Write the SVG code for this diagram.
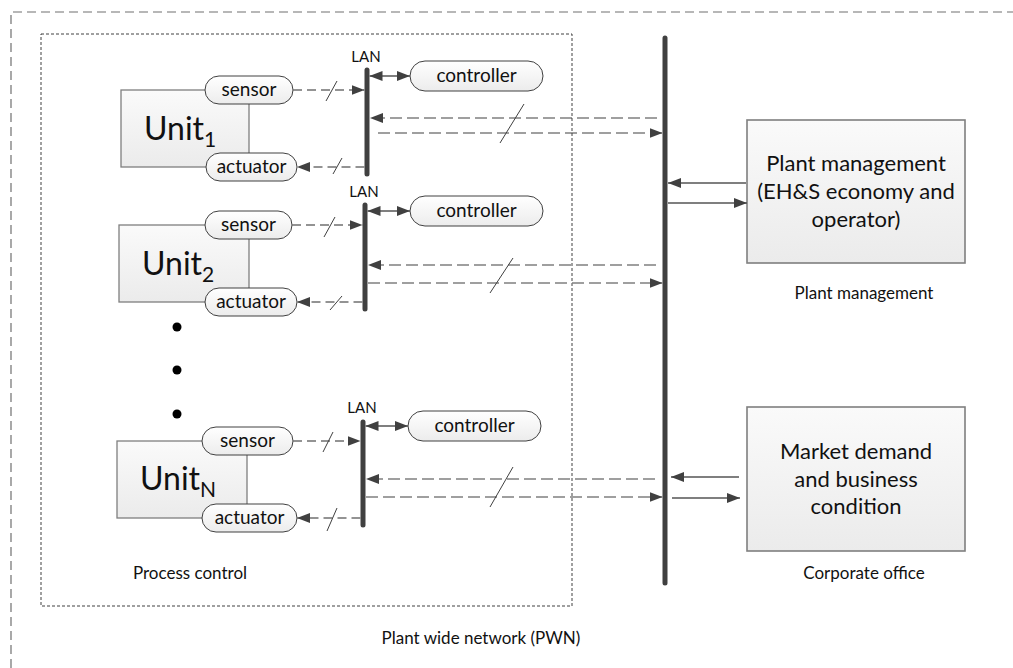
<svg xmlns="http://www.w3.org/2000/svg" width="1013" height="668" viewBox="0 0 1013 668">
<defs>
<linearGradient id="gPill" x1="0" y1="0" x2="0" y2="1"><stop offset="0" stop-color="#ffffff"/><stop offset="1" stop-color="#ececec"/></linearGradient>
<linearGradient id="gBox" x1="0" y1="0" x2="0" y2="1"><stop offset="0" stop-color="#fafafa"/><stop offset="1" stop-color="#ebebeb"/></linearGradient>
<marker id="ah" markerUnits="userSpaceOnUse" markerWidth="14" markerHeight="10" refX="13" refY="5" orient="auto"><path d="M0,0 L13,5 L0,10 Z" fill="#404040"/></marker>
<marker id="ahs" markerUnits="userSpaceOnUse" markerWidth="14" markerHeight="10" refX="0" refY="5" orient="auto"><path d="M13,0 L0,5 L13,10 Z" fill="#404040"/></marker>
</defs>
<style>
text{font-family:Lato,"Open Sans","Liberation Sans",sans-serif;fill:#111;}
.pill{fill:url(#gPill);stroke:#404040;stroke-width:1;}
.unit{fill:url(#gBox);stroke:#7f7f7f;stroke-width:1.3;}
.box{fill:url(#gBox);stroke:#7f7f7f;stroke-width:1.6;}
.bus{stroke:#404040;stroke-width:5;stroke-linecap:round;}
.pt{font-size:19px;text-anchor:middle;}
.lan{font-size:15px;text-anchor:middle;}
.ut{font-size:32px;}
.us{font-size:21px;}
.bt{font-size:22px;text-anchor:middle;}
.lbl{font-size:17px;text-anchor:middle;}
.d1{stroke:#707070;stroke-width:1.3;stroke-dasharray:9 5;fill:none;}
.d2{stroke:#404040;stroke-width:1.1;stroke-dasharray:12 5;fill:none;}
.d3{stroke:#808080;stroke-width:1.6;stroke-dasharray:12 5;fill:none;}
.sl{stroke:#404040;stroke-width:1;}
.sol{stroke:#555;stroke-width:1.3;fill:none;}
</style>

<g id="frame">
<path d="M11,668 V12 H1013" fill="none" stroke="#707070" stroke-width="1.2" stroke-dasharray="9 5"/>
<rect id="process-control-area" x="41" y="34" width="531" height="572" fill="none" stroke="#404040" stroke-width="1" stroke-dasharray="3 2"/>
</g>

<g id="buses">
<line class="bus" x1="665" y1="38" x2="665" y2="583"/>
<line class="bus" x1="367" y1="70" x2="367" y2="174"/>
<line class="bus" x1="365" y1="205" x2="365" y2="309"/>
<line class="bus" x1="363" y1="422" x2="363" y2="525"/>
</g>

<g id="unit1">
<rect class="unit" x="121" y="90" width="128" height="77"/>
<text x="144" y="140"><tspan class="ut">Unit</tspan><tspan class="us" dy="7">1</tspan></text>
</g>
<g id="unit2">
<rect class="unit" x="119" y="225" width="130" height="77"/>
<text x="142" y="275"><tspan class="ut">Unit</tspan><tspan class="us" dy="7">2</tspan></text>
</g>
<g id="unitN">
<rect class="unit" x="117" y="441" width="130" height="77"/>
<text x="140" y="490"><tspan class="ut">Unit</tspan><tspan class="us" dy="7">N</tspan></text>
</g>

<g id="sensor1"><rect class="pill" x="205" y="76" width="88" height="28" rx="14"/><text class="pt" x="249" y="96">sensor</text></g>
<g id="actuator1"><rect class="pill" x="206" y="153" width="91" height="28" rx="14"/><text class="pt" x="251.5" y="173">actuator</text></g>
<g id="controller1"><rect class="pill" x="410" y="61" width="133" height="30" rx="15"/><text class="pt" x="476.5" y="82">controller</text></g>
<g id="lan1"><text class="lan" x="366" y="62">LAN</text></g>

<g id="sensor2"><rect class="pill" x="205" y="211" width="87" height="28" rx="14"/><text class="pt" x="248.5" y="231">sensor</text></g>
<g id="actuator2"><rect class="pill" x="205" y="288" width="92" height="28" rx="14"/><text class="pt" x="251" y="308">actuator</text></g>
<g id="controller2"><rect class="pill" x="410" y="196" width="133" height="30" rx="15"/><text class="pt" x="476.5" y="217">controller</text></g>
<g id="lan2"><text class="lan" x="364" y="197">LAN</text></g>

<g id="sensorN"><rect class="pill" x="202" y="427" width="91" height="28" rx="14"/><text class="pt" x="247.5" y="447">sensor</text></g>
<g id="actuatorN"><rect class="pill" x="202" y="504" width="95" height="28" rx="14"/><text class="pt" x="249.5" y="524">actuator</text></g>
<g id="controllerN"><rect class="pill" x="408" y="411" width="133" height="30" rx="15"/><text class="pt" x="474.5" y="432">controller</text></g>
<g id="lanN"><text class="lan" x="362" y="413">LAN</text></g>

<g id="dots">
<circle cx="177" cy="327" r="4.5" fill="#000"/>
<circle cx="177" cy="370" r="4.5" fill="#000"/>
<circle cx="177" cy="414" r="4.5" fill="#000"/>
</g>

<g id="plant-management">
<rect class="box" x="747" y="120" width="218" height="143"/>
<text class="bt" x="856" y="171">Plant management</text>
<text class="bt" x="856" y="199">(EH&amp;S economy and</text>
<text class="bt" x="856" y="227">operator)</text>
</g>
<g id="corporate-office">
<rect class="box" x="747" y="407" width="218" height="144"/>
<text class="bt" x="856" y="459">Market demand</text>
<text class="bt" x="856" y="487">and business</text>
<text class="bt" x="856" y="514">condition</text>
</g>

<g id="labels">
<text class="lbl" x="864" y="299">Plant management</text>
<text class="lbl" x="864" y="579">Corporate office</text>
<text class="lbl" x="190" y="579">Process control</text>
<text class="lbl" x="481" y="644">Plant wide network (PWN)</text>
</g>

<g id="connectors">
<!-- group 1 -->
<line class="d1" x1="293" y1="90" x2="364.5" y2="90" marker-end="url(#ah)"/>
<line class="sl" x1="326" y1="101" x2="337" y2="81"/>
<line class="d1" x1="364.5" y1="167" x2="297" y2="167" marker-end="url(#ah)"/>
<line class="sl" x1="333" y1="174" x2="342" y2="158"/>
<line class="sol" x1="369.5" y1="76" x2="410" y2="76" marker-start="url(#ahs)" marker-end="url(#ah)"/>
<line class="d2" x1="657" y1="118" x2="370" y2="118" marker-end="url(#ah)"/>
<line class="d2" x1="378" y1="133" x2="662.5" y2="133" marker-end="url(#ah)"/>
<line class="sl" x1="500" y1="143" x2="524" y2="104"/>
<!-- group 2 -->
<line class="d1" x1="292" y1="225" x2="362.5" y2="225" marker-end="url(#ah)"/>
<line class="sl" x1="324" y1="237" x2="335" y2="217"/>
<line class="d1" x1="362.5" y1="302" x2="297" y2="302" marker-end="url(#ah)"/>
<line class="sl" x1="330" y1="310" x2="342" y2="296"/>
<line class="sol" x1="367.5" y1="211" x2="410" y2="211" marker-start="url(#ahs)" marker-end="url(#ah)"/>
<line class="d2" x1="656" y1="265" x2="368" y2="265" marker-end="url(#ah)"/>
<line class="d3" x1="368" y1="283" x2="662.5" y2="283" marker-end="url(#ah)"/>
<line class="sl" x1="490" y1="293" x2="513" y2="258"/>
<!-- group N -->
<line class="d1" x1="293" y1="441" x2="360.5" y2="441" marker-end="url(#ah)"/>
<line class="sl" x1="323" y1="452" x2="333" y2="432"/>
<line class="d1" x1="360.5" y1="518" x2="297" y2="518" marker-end="url(#ah)"/>
<line class="sl" x1="327" y1="531" x2="337" y2="508"/>
<line class="sol" x1="365.5" y1="426" x2="408" y2="426" marker-start="url(#ahs)" marker-end="url(#ah)"/>
<line class="d2" x1="655" y1="479" x2="366" y2="479" marker-end="url(#ah)"/>
<line class="d3" x1="366" y1="497" x2="662.5" y2="497" marker-end="url(#ah)"/>
<line class="sl" x1="490" y1="507" x2="513" y2="467"/>
<!-- plant management -->
<line class="sol" x1="746" y1="183" x2="668" y2="183" marker-end="url(#ah)"/>
<line class="sol" x1="668" y1="203" x2="747" y2="203" marker-end="url(#ah)"/>
<!-- corporate office -->
<line class="sol" x1="739" y1="477" x2="671" y2="477" marker-end="url(#ah)"/>
<line class="sol" x1="672" y1="498" x2="740" y2="498" marker-end="url(#ah)"/>
</g>
</svg>
